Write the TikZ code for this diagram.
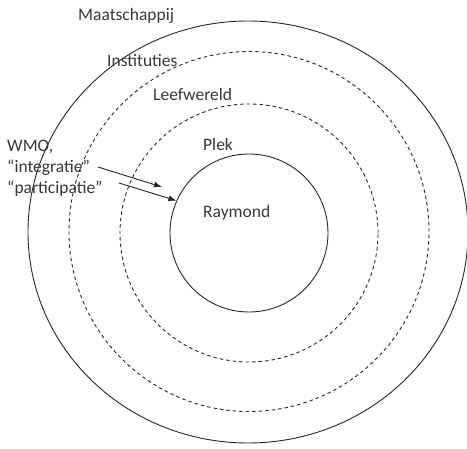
\documentclass[tikz,border=0pt]{standalone}
\usepackage{fontspec}
\setmainfont{Carlito}
\usetikzlibrary{shapes.geometric,arrows.meta}
\begin{document}
\begin{tikzpicture}[x=1pt,y=-1pt,
  ring/.style={draw=black!85,line width=0.9pt,inner sep=0pt},
  dring/.style={ring,dash pattern=on 3.5pt off 3pt},
  lbl/.style={text=black!78,font=\fontsize{17.5}{21}\selectfont,inner sep=0pt,anchor=base west},
  arr/.style={draw=black!85,line width=0.9pt,-{Latex[length=8pt,width=6pt]}}]
\useasboundingbox (0,0) rectangle (467,449);
\node[ring,ellipse,minimum width=440pt,minimum height=422pt] (maat) at (248,232) {};
\node[dring,circle,minimum size=360pt] (inst) at (249,231.5) {};
\node[dring,circle,minimum size=258pt] (leef) at (249,233) {};
\node[ring,circle,minimum size=158pt] (plek) at (249,233) {};
\node[lbl] (tmaat) at (78,21) {Maatschappij};
\node[lbl] (tinst) at (107,67) {Instituties};
\node[lbl] (tleef) at (153,101) {Leefwereld};
\node[lbl] (tplek) at (203,151) {Plek};
\node[lbl] (tray) at (203,218) {Raymond};
\node[lbl] (wmo) at (7,152) {WMO,};
\node[lbl] (integ) at (7,173) {“integratie”};
\node[lbl] (partic) at (7,194) {“participatie”};
\coordinate (a1s) at (98,167);
\coordinate (a1e) at (162,187);
\coordinate (a2s) at (119,183);
\coordinate (a2e) at (plek.156);
\draw[arr] (a1s) -- (a1e);
\draw[arr] (a2s) -- (a2e);
\end{tikzpicture}
\end{document}
